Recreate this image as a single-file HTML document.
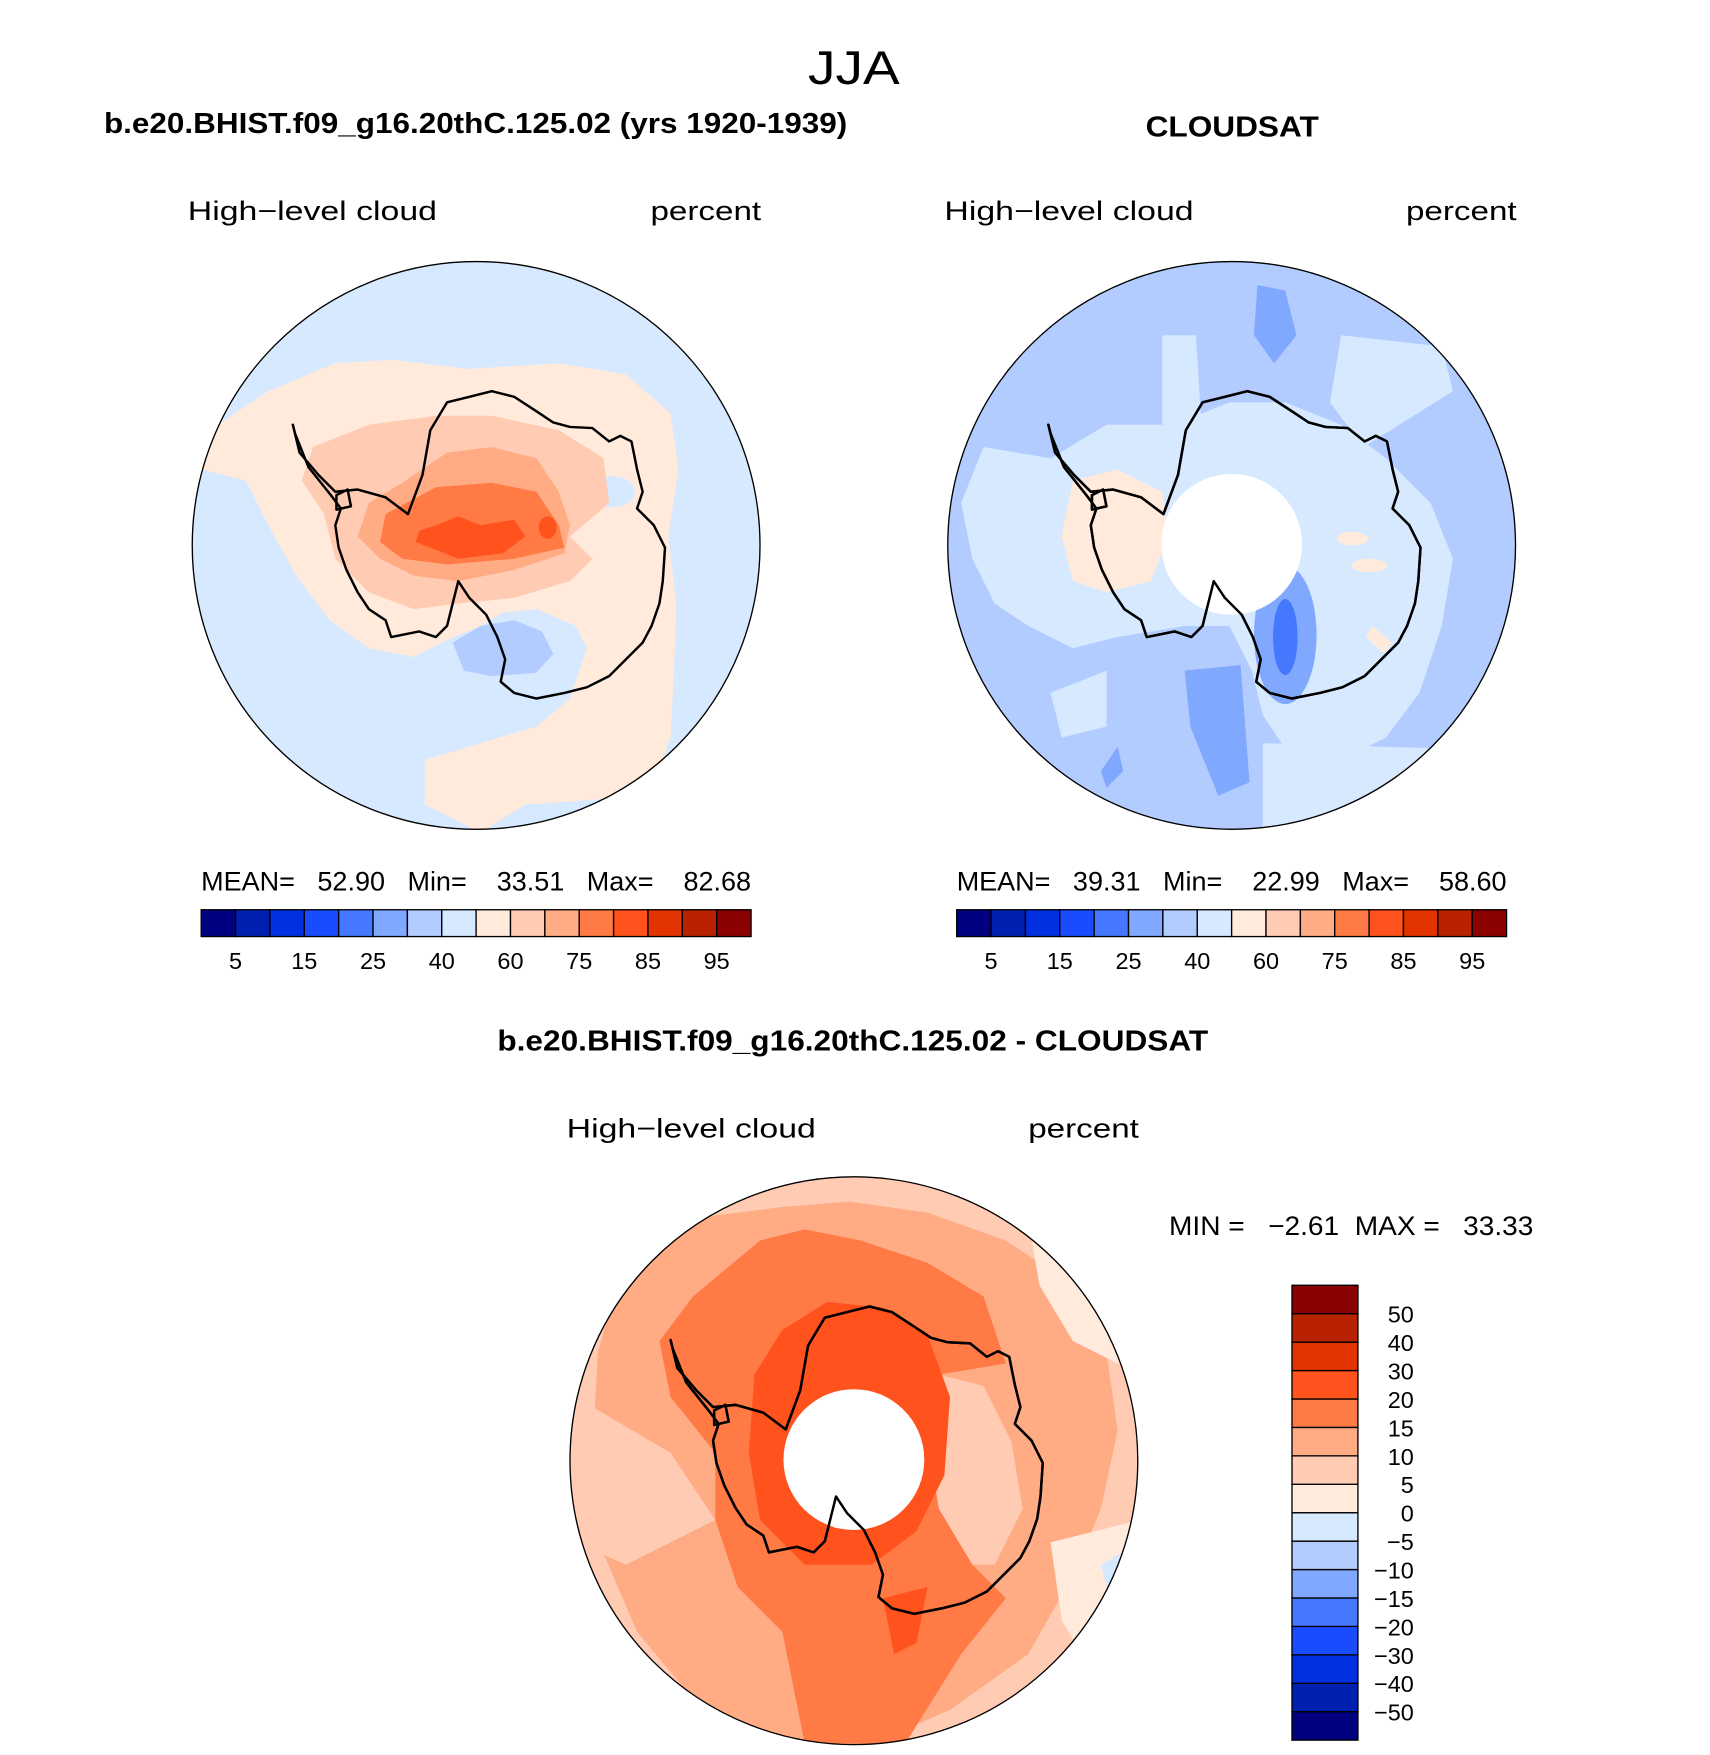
<!DOCTYPE html>
<html><head><meta charset="utf-8"><style>
html,body{margin:0;padding:0;background:#fff;}
svg{display:block;}
text{font-family:"Liberation Sans",sans-serif;fill:#000;white-space:pre;}
.t{font-weight:bold;font-size:26px;}
.s{font-size:24px;}
</style></head><body>
<svg id="fig" width="1710" height="1755" viewBox="0 0 1530 1570.3" xmlns="http://www.w3.org/2000/svg">
<defs>
<clipPath id="cL"><circle cx="426" cy="488" r="254"/></clipPath>
<clipPath id="cR"><circle cx="1102" cy="488" r="254"/></clipPath>
<clipPath id="cB"><circle cx="764" cy="1307" r="254"/></clipPath>
<path id="coast" fill="none" stroke="#000" stroke-width="2.2" stroke-linejoin="round" d="M-164,-108 L-158,-83 L-141,-63 L-126,-48 L-106,-50 L-81,-43 L-61,-28 L-48,-63 L-41,-103 L-26,-128 L-6,-133 L14,-138 L34,-133 L54,-120 L69,-110 L84,-106 L104,-105 L119,-93 L129,-98 L139,-93 L144,-68 L149,-48 L144,-33 L159,-18 L169,2 L167,32 L164,52 L157,72 L149,87 L134,102 L119,117 L99,127 L79,132 L54,137 L34,132 L22,122 L26,102 L19,82 L9,62 L-6,47 L-16,32 L-21,52 L-26,72 L-36,82 L-51,77 L-76,82 L-81,67 L-96,57 L-106,42 L-116,22 L-123,2 L-126,-18 L-121,-33 L-130,-45 L-150,-70 L-162,-100 Z M-125,-45 L-115,-50 L-112,-35 L-125,-32 Z"/>
</defs>

<text x="723" y="75" textLength="82" lengthAdjust="spacingAndGlyphs" font-size="42" font-weight="300">JJA</text>
<text class="t" x="93" y="119" textLength="665" lengthAdjust="spacingAndGlyphs">b.e20.BHIST.f09_g16.20thC.125.02 (yrs 1920-1939)</text>
<text class="t" x="1025" y="122" textLength="155" lengthAdjust="spacingAndGlyphs">CLOUDSAT</text>
<text class="s" x="168" y="197" textLength="223" lengthAdjust="spacingAndGlyphs">High−level cloud</text>
<text class="s" x="582" y="197" textLength="99" lengthAdjust="spacingAndGlyphs">percent</text>
<text class="s" x="845" y="197" textLength="223" lengthAdjust="spacingAndGlyphs">High−level cloud</text>
<text class="s" x="1258" y="197" textLength="99" lengthAdjust="spacingAndGlyphs">percent</text>

<!-- LEFT MAP -->
<g clip-path="url(#cL)">
<rect x="170" y="230" width="520" height="520" fill="#d6e9ff"/>
<polygon fill="#ffeadb" points="195,380 240,350 300,325 350,322 420,330 500,325 560,335 600,370 607,420 598,480 605,540 603,600 600,660 585,700 540,715 470,720 430,745 380,720 380,680 430,665 480,650 510,625 525,580 515,560 480,545 450,548 430,560 395,575 370,588 330,580 295,555 265,515 240,470 220,430 180,420"/>
<ellipse cx="548" cy="440" rx="20" ry="14" fill="#d6e9ff"/>
<polygon fill="#ffcbb3" points="280,400 330,380 390,372 440,372 500,385 540,410 545,450 510,480 530,500 510,520 460,535 410,540 370,545 330,530 300,500 290,460 270,430"/>
<polygon fill="#ffac85" points="330,450 360,432 400,405 440,400 480,410 500,440 510,470 505,495 460,510 410,520 370,515 340,500 320,480"/>
<polygon fill="#ff7a45" points="345,460 390,436 440,432 480,440 500,470 505,490 460,500 400,505 360,500 340,485"/>
<polygon fill="#ff521c" points="375,475 390,470 410,462 430,470 460,465 470,480 450,495 410,500 390,492 372,485"/>
<ellipse cx="490" cy="472" rx="8" ry="10" fill="#ff521c"/>
<polygon fill="#b3ccff" points="405,575 430,560 460,555 485,565 495,585 480,602 440,605 415,600"/>
<use href="#coast" transform="translate(426,488)"/>
</g>
<circle cx="426" cy="488" r="254" fill="none" stroke="#000" stroke-width="1.2"/>

<!-- RIGHT MAP -->
<g clip-path="url(#cR)">
<rect x="846" y="230" width="520" height="520" fill="#b3ccff"/>
<polygon fill="#d6e9ff" points="880,400 940,410 990,380 1050,380 1100,360 1150,360 1200,380 1240,410 1280,450 1300,500 1290,560 1270,620 1240,660 1200,680 1150,670 1130,640 1120,600 1100,560 1060,560 1000,570 960,580 920,560 890,540 870,500 860,450"/>
<polygon fill="#d6e9ff" points="1200,300 1290,310 1300,350 1220,400 1190,360"/>
<polygon fill="#d6e9ff" points="1130,665 1300,670 1260,740 1130,745"/>
<polygon fill="#d6e9ff" points="1040,300 1070,300 1075,380 1040,380"/>
<polygon fill="#d6e9ff" points="940,620 990,600 990,650 950,660"/>
<polygon fill="#ffeadb" points="960,430 1000,420 1040,440 1045,480 1030,520 990,530 960,520 950,480"/>
<ellipse cx="1210" cy="482" rx="14" ry="6" fill="#ffeadb"/>
<ellipse cx="1225" cy="506" rx="16" ry="6" fill="#ffeadb"/>
<polygon fill="#ffeadb" points="1228,560 1245,575 1238,585 1222,570"/>
<polygon fill="#80a8ff" points="1125,255 1150,260 1160,300 1140,325 1122,300"/>
<polygon fill="#80a8ff" points="1060,600 1110,595 1118,700 1090,712 1065,650"/>
<ellipse cx="1150" cy="568" rx="28" ry="62" fill="#80a8ff"/>
<ellipse cx="1150" cy="570" rx="11" ry="34" fill="#4479ff"/>
<polygon fill="#80a8ff" points="985,690 1000,668 1005,690 990,705"/>
<use href="#coast" transform="translate(1102,488)"/>
</g>
<circle cx="1102" cy="487" r="63" fill="#fff"/>
<g clip-path="url(#cR)"><path d="M1081,518 L1087,512 L1097,520 L1110,530 L1118,545 L1103,550 L1085,548 L1074,540 Z" fill="#fff"/><use href="#coast" transform="translate(1102,488)"/></g>
<circle cx="1102" cy="488" r="254" fill="none" stroke="#000" stroke-width="1.2"/>

<!-- stats -->
<text class="s" x="180" y="797" font-size="21" textLength="492" lengthAdjust="spacingAndGlyphs">MEAN=   52.90   Min=    33.51   Max=    82.68</text>
<text class="s" x="856" y="797" font-size="21" textLength="492" lengthAdjust="spacingAndGlyphs">MEAN=   39.31   Min=    22.99   Max=    58.60</text>
<g id="cbL"></g>
<g id="cbR"></g>

<!-- BOTTOM -->
<text class="t" x="445" y="940" textLength="636" lengthAdjust="spacingAndGlyphs">b.e20.BHIST.f09_g16.20thC.125.02 - CLOUDSAT</text>
<text class="s" x="507" y="1018" textLength="223" lengthAdjust="spacingAndGlyphs">High−level cloud</text>
<text class="s" x="920" y="1018" textLength="99" lengthAdjust="spacingAndGlyphs">percent</text>
<g clip-path="url(#cB)">
<rect x="508" y="1050" width="520" height="520" fill="#ffcbb3"/>
<polygon fill="#ffac85" points="560,1120 620,1090 700,1080 760,1075 830,1085 900,1110 960,1150 990,1210 1000,1280 985,1350 960,1410 920,1480 850,1530 780,1560 700,1560 620,1520 570,1460 540,1390 530,1300 535,1210"/>
<polygon fill="#ffcbb3" points="840,1230 880,1240 905,1290 915,1350 890,1400 850,1400 835,1350 830,1290"/>
<polygon fill="#ffcbb3" points="515,1250 600,1300 640,1360 560,1400 515,1380"/>
<polygon fill="#ffeadb" points="920,1090 980,1140 1020,1180 1020,1230 960,1200 930,1150"/>
<polygon fill="#ffeadb" points="940,1380 1020,1360 1020,1440 980,1500 950,1450"/>
<polygon fill="#ff7a45" points="620,1160 680,1110 720,1100 770,1110 830,1130 880,1160 900,1220 840,1230 830,1290 840,1350 870,1400 900,1430 860,1480 810,1560 720,1560 700,1460 660,1420 640,1360 640,1300 600,1250 590,1200"/>
<polygon fill="#ff521c" points="700,1190 740,1165 790,1170 830,1195 850,1250 845,1320 820,1370 780,1400 720,1400 680,1360 670,1300 675,1230"/>
<polygon fill="#ff521c" points="790,1430 830,1420 820,1470 800,1480"/>
<polygon fill="#d6e9ff" points="985,1400 1020,1380 1020,1430 995,1440"/>
<use href="#coast" transform="translate(764,1307)"/>
</g>
<circle cx="764" cy="1306" r="63" fill="#fff"/>
<g clip-path="url(#cB)"><path d="M743,1337 L749,1331 L759,1339 L772,1349 L780,1364 L765,1369 L747,1367 L736,1359 Z" fill="#fff"/><use href="#coast" transform="translate(764,1307)"/></g>
<circle cx="764" cy="1307" r="254" fill="none" stroke="#000" stroke-width="1.2"/>
<text class="s" x="1046" y="1105" font-size="21" textLength="326" lengthAdjust="spacingAndGlyphs">MIN =   −2.61  MAX =   33.33</text>
<g id="cbB"></g>
</svg>
<script>
var NS="http://www.w3.org/2000/svg";
var colors=["#000080","#0020b0","#0030e0","#1a4cff","#4479ff","#80a8ff","#b3ccff","#d6e9ff","#ffeadb","#ffcbb3","#ffac85","#ff7a45","#ff521c","#e33400","#b82200","#8b0000"];
var absLevels=["5","10","15","20","25","30","40","50","60","70","75","80","85","90","95"];
var absShown=["5","15","25","40","60","75","85","95"];
var diffLevels=["−50","−40","−30","−20","−15","−10","−5","0","5","10","15","20","30","40","50"];
function hbar(gid,x0,y0,w,h){
  var g=document.getElementById(gid),bw=w/colors.length;
  colors.forEach(function(c,i){
    var r=document.createElementNS(NS,"rect");
    r.setAttribute("x",x0+i*bw);r.setAttribute("y",y0);r.setAttribute("width",bw);r.setAttribute("height",h);
    r.setAttribute("fill",c);r.setAttribute("stroke","#000");r.setAttribute("stroke-width","1.2");
    
    
    g.appendChild(r);
  });
  absLevels.forEach(function(v,i){
    if(absShown.indexOf(v)<0)return;
    var t=document.createElementNS(NS,"text");
    t.setAttribute("x",x0+(i+1)*bw);t.setAttribute("y",y0+h+29);t.setAttribute("text-anchor","middle");t.setAttribute("font-size","21");
    t.textContent=v;
    
    
    g.appendChild(t);
  });
}
function vbar(gid,x0,y0,w,h){
  var g=document.getElementById(gid),bh=h/colors.length;
  colors.forEach(function(c,i){
    var r=document.createElementNS(NS,"rect");
    r.setAttribute("x",x0);r.setAttribute("y",y0+h-(i+1)*bh);r.setAttribute("width",w);r.setAttribute("height",bh);
    r.setAttribute("fill",c);r.setAttribute("stroke","#000");r.setAttribute("stroke-width","1.2");
    
    
    g.appendChild(r);
  });
  diffLevels.forEach(function(v,i){
    var t=document.createElementNS(NS,"text");
    t.setAttribute("x",x0+w+50);t.setAttribute("y",y0+h-(i+1)*bh+8);t.setAttribute("text-anchor","end");t.setAttribute("font-size","21");
    t.textContent=v;
    
    
    g.appendChild(t);
  });
}
hbar("cbL",180,814,492,24);
hbar("cbR",856,814,492,24);
vbar("cbB",1156,1150,59,407);
</script>
</body></html>
